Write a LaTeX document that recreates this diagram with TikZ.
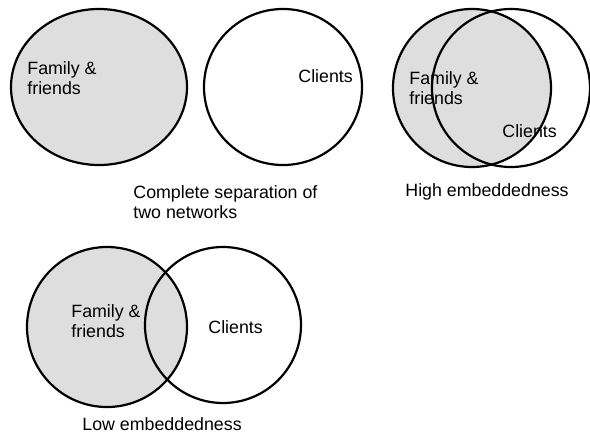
\documentclass[tikz,border=0pt]{standalone}
\usepackage{fontspec}
\setmainfont{Liberation Sans}
\usetikzlibrary{positioning}

\begin{document}
\begin{tikzpicture}[x=0.5pt, y=0.5pt,
  ring/.style={draw=black, line width=1.1pt},
  shaded/.style={fill=black!13},
  lbl/.style={anchor=west, inner sep=0pt, align=left, font=\fontsize{8.9}{10.2}\selectfont}]

\useasboundingbox (0,0) rectangle (590,-435);

% separate networks
\begin{scope}
\draw[ring, shaded] (99,-87) ellipse [x radius=88, y radius=78];
\draw[ring] (283,-87) ellipse [x radius=79, y radius=78];

\node[lbl] (famA) at (27,-78) {Family \&\\friends};
\node[lbl] (cliA) at (298,-76) {Clients};

\node[lbl] (capA) at (133,-202) {Complete separation of\\two networks};
\end{scope}

% high embeddedness
\begin{scope}
\fill[shaded] (472,-88) circle [radius=79];
\draw[ring] (472,-88) circle [radius=79];
\draw[ring] (511,-88) circle [radius=79];

\node[lbl] (famB) at (409,-88) {Family \&\\friends};
\node[lbl] (cliB) at (502,-131) {Clients};

\node[lbl] (capB) at (405,-192) {High embeddedness};
\end{scope}

% low embeddedness
\begin{scope}
\fill[shaded] (107,-327) circle [radius=80];
\draw[ring] (107,-327) circle [radius=80];
\draw[ring] (223,-325) circle [radius=78];

\node[lbl] (famC) at (71,-321) {Family \&\\friends};
\node[lbl] (cliC) at (208,-327) {Clients};

\node[lbl] (capC) at (82,-424) {Low embeddedness};
\end{scope}

\end{tikzpicture}
\end{document}
